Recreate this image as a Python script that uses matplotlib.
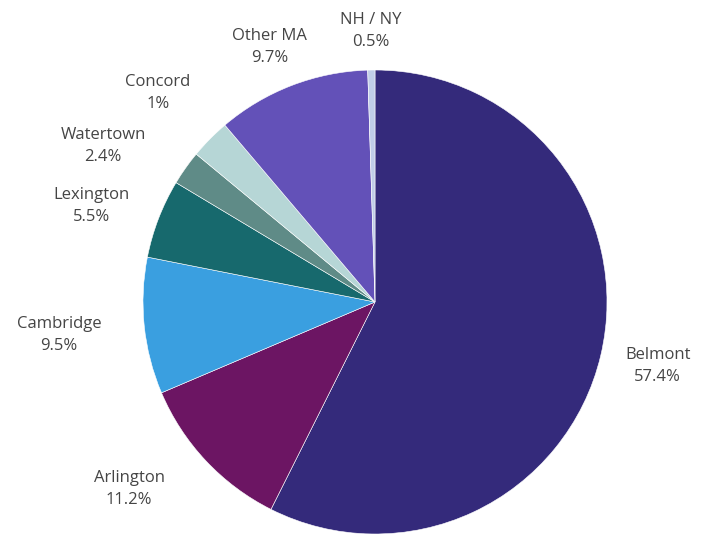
import numpy as np
import matplotlib
matplotlib.use("Agg")
import matplotlib.pyplot as plt

# ---- data ----
towns = ["Belmont", "Arlington", "Cambridge", "Lexington", "Watertown",
         "Concord", "Other MA", "NH / NY"]
pct_labels = ["57.4%", "11.2%", "9.5%", "5.5%", "2.4%", "1%", "9.7%", "0.5%"]
# slice sizes as drawn in the picture
shares = [57.4, 11.2, 9.5, 5.5, 2.4, 2.8, 10.7, 0.5]
colors = ["#342a7b", "#6c1563", "#3a9fe0", "#17696d", "#5f8b87",
          "#b6d6d6", "#6351b8", "#c0cde8"]

# label placement (radial distance in radius units, angle nudge in degrees)
label_r = [1.25, 1.33, 1.37, 1.29, 1.35, 1.30, 1.19, 1.17]
label_da = [0.5, -6.0, 0.0, 2.4, 5.5, 0.7, 1.4, 0.0]

plt.rcParams['font.family'] = ['Open Sans', 'DejaVu Sans']

W, H = 716, 535
fig = plt.figure(figsize=(W / 100, H / 100), dpi=100)
cx, cy, R = 375, 302, 232
ax = fig.add_axes([(cx - R) / W, (H - cy - R) / H, 2 * R / W, 2 * R / H])

wedges, _ = ax.pie(shares, colors=colors, startangle=90, counterclock=False,
                   radius=1.0, wedgeprops=dict(edgecolor="white", linewidth=0.4))
ax.set_xlim(-1, 1)
ax.set_ylim(-1, 1)
ax.set_aspect("equal")
ax.axis("off")

for w, town, pl, r, da in zip(wedges, towns, pct_labels, label_r, label_da):
    mid = np.deg2rad((w.theta1 + w.theta2) / 2 + da)
    ax.text(r * np.cos(mid), r * np.sin(mid), f"{town}\n{pl}",
            ha="center", va="center", fontsize=12, color="#454545",
            linespacing=1.5, clip_on=False)

fig.savefig("out.png", dpi=100)
